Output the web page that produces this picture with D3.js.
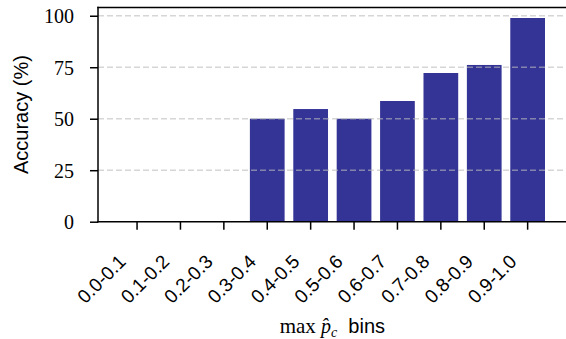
<!DOCTYPE html>
<html><head><meta charset="utf-8">
<script src="https://cdn.jsdelivr.net/npm/d3@7"></script>
<style>
body{margin:0;background:#fff;}
svg{display:block;}
</style></head>
<body>
<svg id="chart" width="566" height="339"></svg>
<script>
const categories = ["0.0-0.1","0.1-0.2","0.2-0.3","0.3-0.4","0.4-0.5","0.5-0.6","0.6-0.7","0.7-0.8","0.8-0.9","0.9-1.0"];
const accuracy = [0, 0, 0, 50, 54.7, 50, 58.6, 72.2, 76.1, 98.9];
const yTicks = [0, 25, 50, 75, 100];
const yLabel = "Accuracy (%)";

const svg = d3.select("#chart");
const L = 98, R = 566.7, T = 7.5, B = 221.7;
const serif = "'Liberation Serif', 'Times New Roman', serif";
const sans = "'Liberation Sans', Arial, sans-serif";
const barColor = "#343496";

const x = d3.scaleBand().domain(categories).range([L, R]).paddingInner(0.2).paddingOuter(0.5);
const y = d3.scaleLinear().domain([0, 104]).range([B, T]);

// bars
svg.append("g").selectAll("rect").data(categories).join("rect")
  .attr("x", d => x(d))
  .attr("width", x.bandwidth())
  .attr("y", (d, i) => y(accuracy[i]))
  .attr("height", (d, i) => B - y(accuracy[i]))
  .attr("fill", barColor);

// grid (above bars)
svg.append("g").selectAll("line").data(yTicks.filter(t => t > 0)).join("line")
  .attr("x1", L).attr("x2", R)
  .attr("y1", d => y(d)).attr("y2", d => y(d))
  .attr("stroke", "#bbbbbb").attr("stroke-opacity", 0.6)
  .attr("stroke-width", 1.5).attr("stroke-dasharray", "6,3");

// y axis
const yAxis = svg.append("g").attr("transform", `translate(${L},0)`)
  .call(d3.axisLeft(y).tickValues(yTicks).tickSize(8).tickPadding(16).tickFormat(d3.format("d")));
yAxis.select(".domain").remove();
yAxis.selectAll(".tick line").attr("stroke", "#000").attr("stroke-width", 1.5);
yAxis.selectAll(".tick text").attr("font-family", serif).attr("font-size", 20).attr("fill", "#000")
  .attr("dy", "0.36em");

// x axis
const xAxis = svg.append("g").attr("transform", `translate(0,${B})`)
  .call(d3.axisBottom(x).tickSize(8).tickSizeOuter(0));
xAxis.select(".domain").remove();
xAxis.selectAll(".tick line").attr("stroke", "#000").attr("stroke-width", 1.5);
xAxis.selectAll(".tick text")
  .attr("font-family", sans).attr("font-size", 19).attr("fill", "#000")
  .attr("text-anchor", "end").attr("x", 0).attr("y", 0).attr("dy", 0)
  .attr("transform", "translate(-10,41) rotate(-45)");

// spines
svg.append("line").attr("x1", L).attr("x2", L).attr("y1", T).attr("y2", B)
  .attr("stroke", "#000").attr("stroke-width", 1.5).attr("stroke-linecap", "square");
svg.append("line").attr("x1", L).attr("x2", 566).attr("y1", B).attr("y2", B)
  .attr("stroke", "#000").attr("stroke-width", 1.5).attr("stroke-linecap", "square");
svg.append("line").attr("x1", L).attr("x2", 566).attr("y1", T).attr("y2", T)
  .attr("stroke", "#000").attr("stroke-width", 1.5).attr("stroke-linecap", "square");

// y label
svg.append("text").attr("transform", `translate(28,${(T + B) / 2}) rotate(-90)`)
  .attr("text-anchor", "middle").attr("font-family", sans).attr("font-size", 20)
  .attr("fill", "#000").text(yLabel);

// x label
const xl = svg.append("text").attr("x", (L + R) / 2).attr("y", 333)
  .attr("text-anchor", "middle").attr("fill", "#000");
xl.append("tspan").attr("font-family", serif).attr("font-size", 21).text("max ");
xl.append("tspan").attr("font-family", serif).attr("font-style", "italic").attr("font-size", 20).text("p\u0302");
xl.append("tspan").attr("font-family", serif).attr("font-style", "italic").attr("font-size", 14).attr("dy", 4).text("c");
xl.append("tspan").attr("font-family", sans).attr("font-size", 20).attr("dy", -4).text("\u00a0\u00a0bins");
</script>
</body></html>
